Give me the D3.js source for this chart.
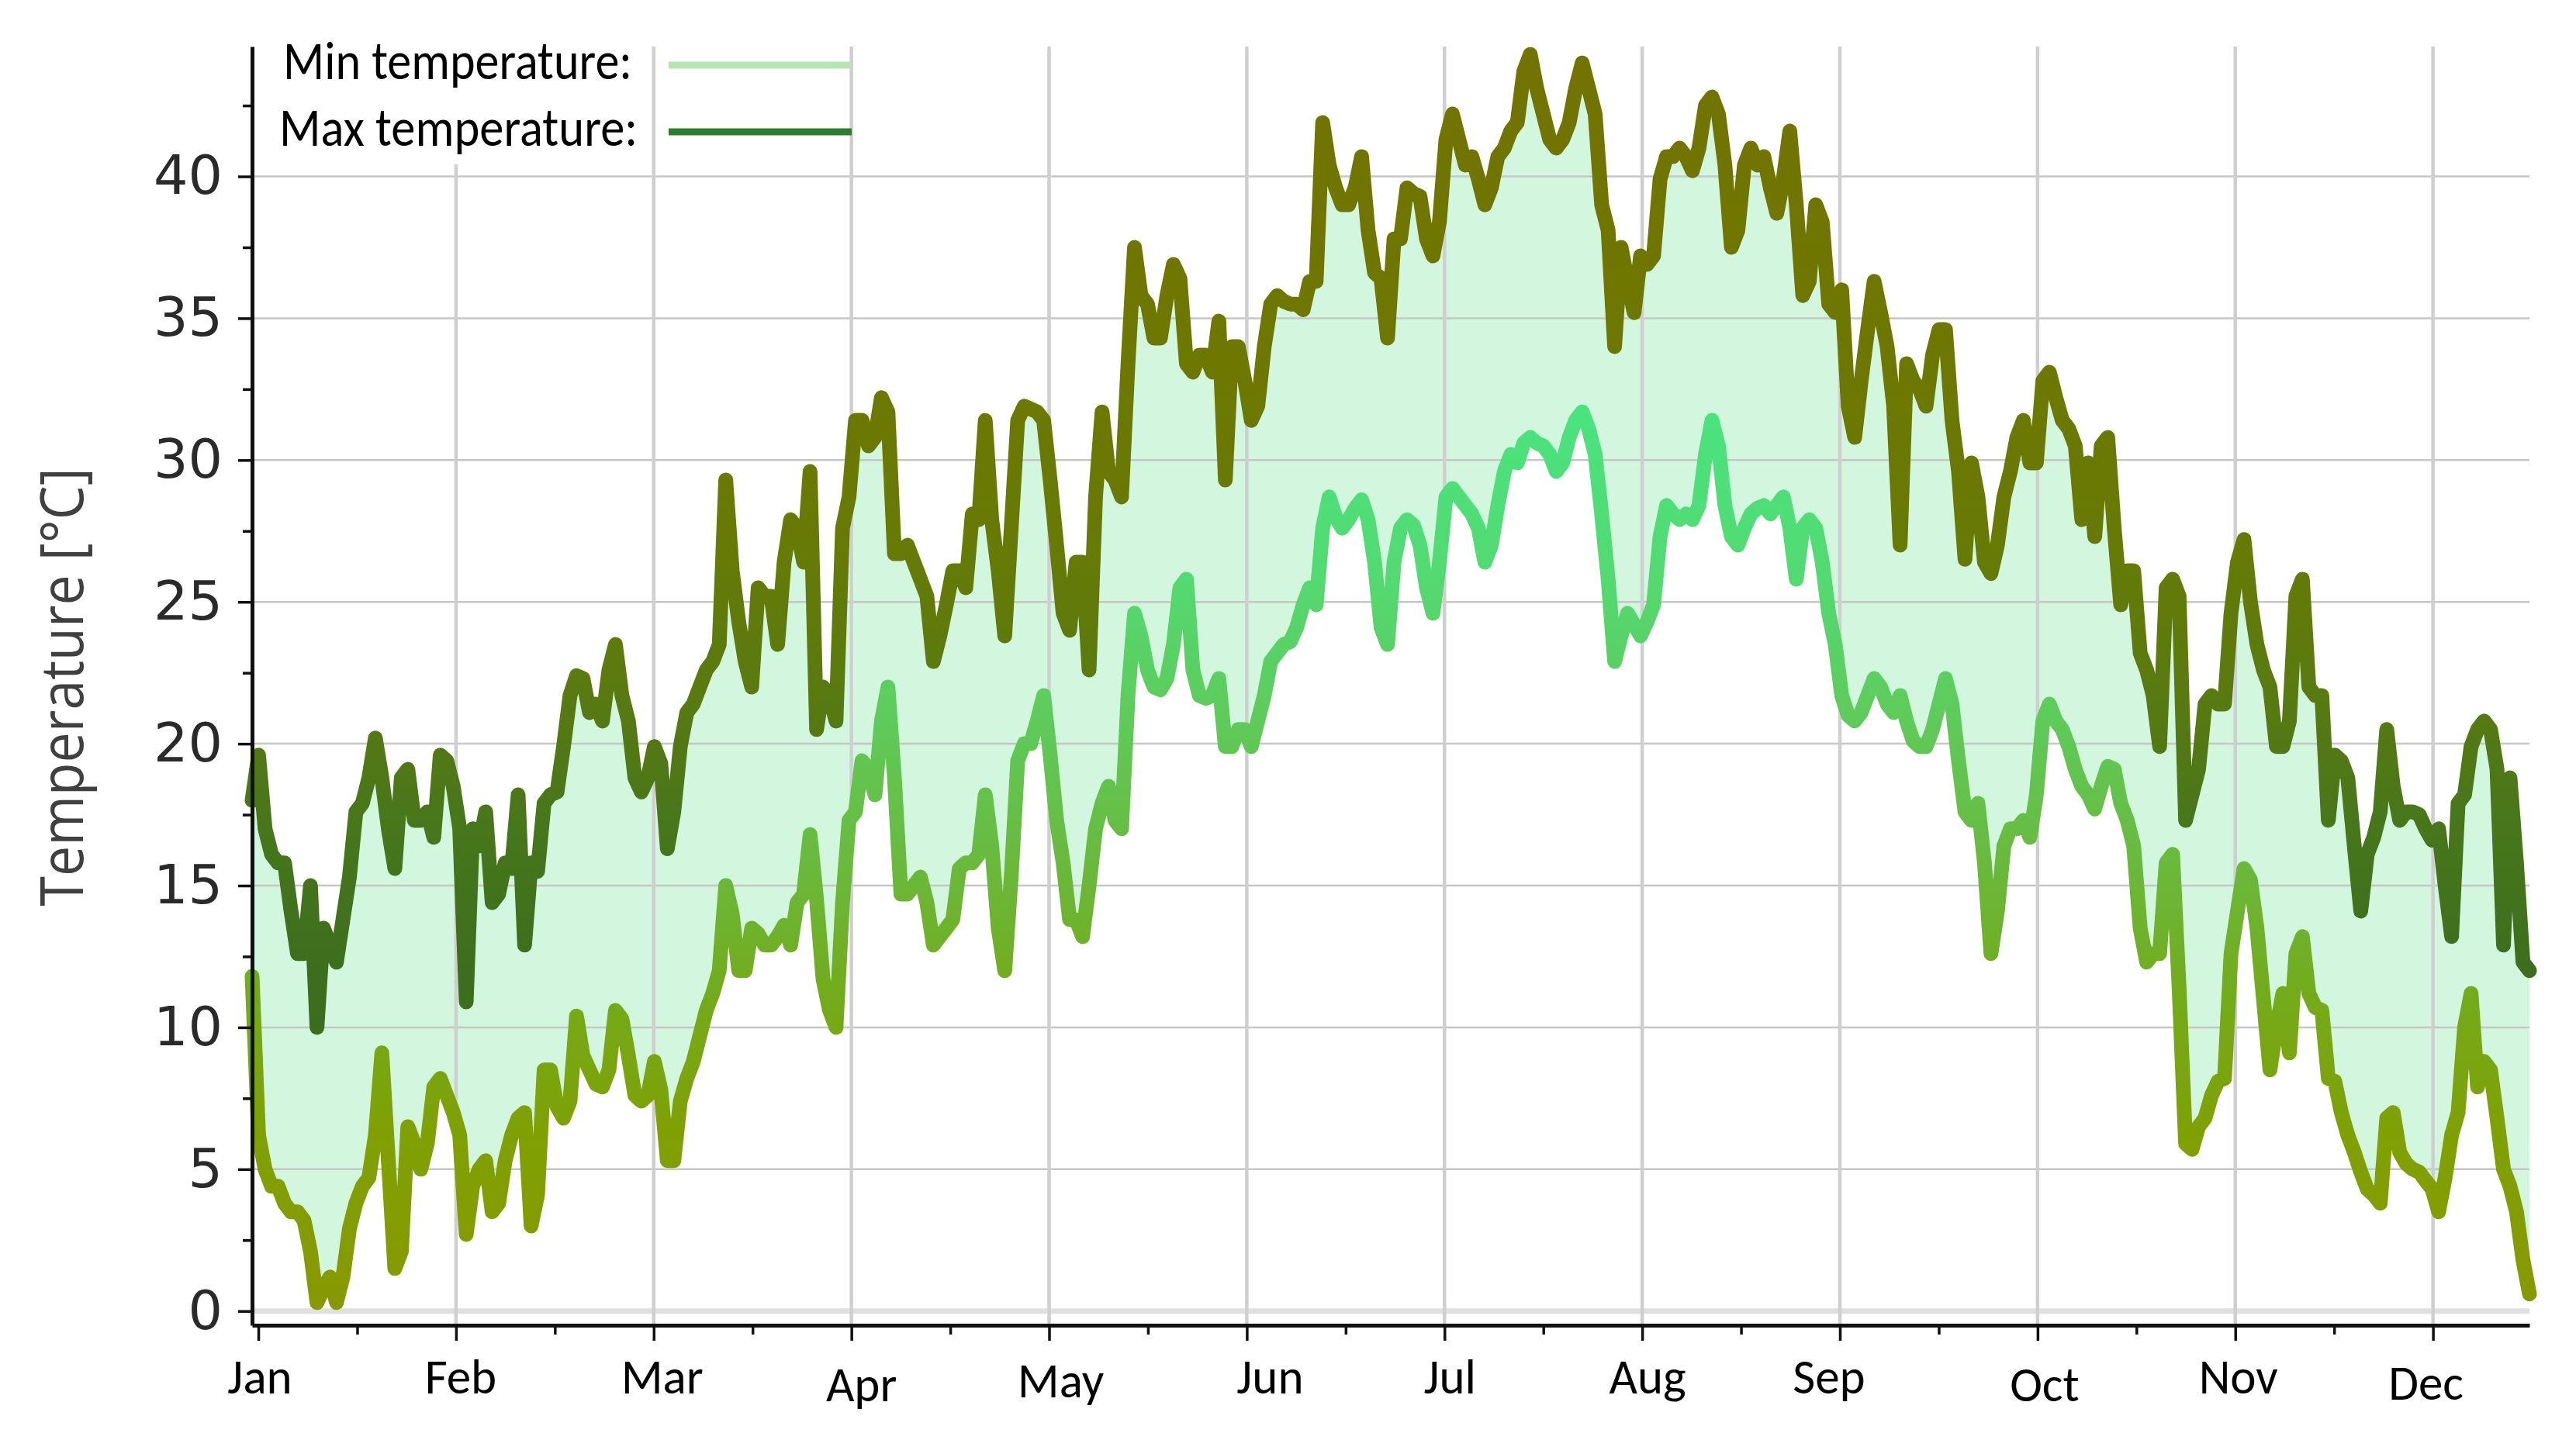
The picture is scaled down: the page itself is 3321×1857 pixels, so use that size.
<!DOCTYPE html>
<html>
<head>
<meta charset="utf-8">
<script src="https://cdn.jsdelivr.net/npm/d3@7"></script>
<style>
html,body{margin:0;padding:0;background:#ffffff;}
svg{display:block;}
</style>
</head>
<body>
<svg id="chart" width="3321" height="1857"></svg>
<script>
// ---------------- DATA ----------------
const months = ["Jan","Feb","Mar","Apr","May","Jun","Jul","Aug","Sep","Oct","Nov","Dec"];
const yTickValues = [0,5,10,15,20,25,30,35,40];
const legendLabels = ["Min temperature:", "Max temperature:"];
const yTitle = "Temperature [\u00B0C]";

// daily maximum temperature (°C)
const maxTemp = [
18.0,19.6,17,16.1,15.8,15.8,14.1,12.6,12.6,15,10,13.5,12.9,12.3,13.8,15.3,17.6,17.9,18.8,20.2,
18.8,17,15.6,18.8,19.1,17.3,17.3,17.6,16.7,19.6,19.4,18.5,17,10.9,17,16.4,17.6,14.4,14.7,15.8,
15.6,18.2,12.9,15.8,15.5,17.9,18.2,18.3,19.9,21.7,22.4,22.3,21.1,21.4,20.8,22.6,23.5,21.7,20.8,18.8,
18.3,18.8,19.9,19.3,16.3,17.6,19.9,21.1,21.4,22,22.6,22.9,23.5,29.3,26.1,24.3,22.9,22,25.5,25.2,
25.2,23.5,26.4,27.9,27.6,26.4,29.6,20.5,22,21.7,20.8,27.6,28.7,31.4,31.4,30.5,30.8,32.2,31.7,26.7,
26.7,27,26.4,25.8,25.2,22.9,23.8,24.9,26.1,26.1,25.5,28.1,27.9,31.4,27.9,26.1,23.8,27.6,31.4,31.9,
31.8,31.7,31.4,29.3,27,24.6,24,26.4,26.4,22.6,28.7,31.7,29.6,29.3,28.7,33.4,37.5,35.8,35.5,34.3,
34.3,35.8,36.9,36.4,33.4,33.1,33.7,33.7,33.1,34.9,29.3,34,34,32.8,31.4,31.9,34,35.5,35.8,35.6,
35.5,35.5,35.3,36.3,36.3,41.9,40.4,39.6,39,39,39.6,40.7,38.1,36.6,36.4,34.3,37.8,37.8,39.6,39.4,
39.3,37.8,37.2,38.4,41.3,42.2,41.3,40.4,40.7,39.9,39,39.6,40.7,41,41.6,41.9,43.7,44.3,43.1,42.2,
41.3,41,41.3,41.9,43.1,44,43.1,42.2,39,38.1,34,37.5,36.3,35.2,37.2,36.9,37.2,39.9,40.7,40.7,
41,40.7,40.2,41,42.5,42.8,42.2,40.4,37.5,38.1,40.4,41,40.4,40.7,39.6,38.7,39.9,41.6,39,35.8,
36.3,39,38.4,35.5,35.2,36,31.9,30.8,32.8,34.6,36.3,35.2,34,31.9,27,33.4,32.8,32.5,31.9,33.7,
34.6,34.6,31.4,29.6,26.5,29.9,28.7,26.4,26,27,28.7,29.6,30.8,31.4,29.9,29.9,32.8,33.1,32.2,31.4,
31.1,30.5,27.9,29.9,27.3,30.5,30.8,27.6,24.9,26.1,26.1,23.2,22.6,21.7,19.9,25.5,25.8,25.2,17.3,18.2,
19.1,21.4,21.7,21.4,21.4,24.6,26.4,27.2,25,23.5,22.6,22,19.9,19.9,20.8,25.2,25.8,22,21.7,21.7,
17.3,19.6,19.4,18.8,16.4,14.1,16.1,16.7,17.6,20.5,18.5,17.3,17.6,17.6,17.5,17,16.6,17,15,13.2,
17.9,18.2,19.9,20.5,20.8,20.5,19.1,12.9,18.8,15.8,12.3,12
];

// daily minimum temperature (°C)
const minTemp = [
11.8,6.2,5,4.4,4.4,3.8,3.5,3.5,3.2,2.1,0.3,0.8,1.2,0.3,1.2,2.9,3.8,4.4,4.7,6.2,
9.1,5.3,1.5,2.1,6.5,5.9,5,5.9,7.9,8.2,7.6,7,6.2,2.7,4.4,5,5.3,3.5,3.8,5.3,
6.2,6.8,7,3.0,4.1,8.5,8.5,7.2,6.8,7.4,10.4,9.0,8.5,8.0,7.9,8.5,10.6,10.3,9.0,7.6,
7.4,7.6,8.8,7.8,5.3,5.3,7.4,8.2,8.8,9.7,10.6,11.2,12.0,15.0,14.0,12.0,12.0,13.5,13.3,12.9,
12.9,13.2,13.6,12.9,14.4,14.7,16.8,14.5,11.7,10.6,10,14.4,17.3,17.6,19.4,19.1,18.2,20.8,22,18.8,
14.7,14.7,15,15.3,14.4,12.9,13.2,13.5,13.8,15.6,15.8,15.8,16.1,18.2,16.4,13.5,12,15.3,19.4,20,
20,20.8,21.7,19.6,17.3,15.8,13.8,13.8,13.2,15,17,17.9,18.5,17.3,17,21.7,24.6,23.8,22.6,22,
21.9,22.3,23.5,25.5,25.8,22.6,21.7,21.6,21.7,22.3,19.9,19.9,20.5,20.5,19.9,20.8,21.7,22.9,23.2,23.5,
23.6,24.1,24.9,25.5,24.9,27.6,28.7,28,27.6,27.9,28.3,28.6,27.9,26.4,24.1,23.5,26.4,27.6,27.9,27.7,
27,25.5,24.6,26.4,28.7,29,28.7,28.4,28.1,27.6,26.4,27,28.4,29.6,30.2,29.9,30.6,30.8,30.6,30.5,
30.2,29.6,29.9,30.8,31.4,31.7,31.1,30.2,28.1,25.8,22.9,23.8,24.6,24.2,23.8,24.3,24.9,27.3,28.4,28.1,
27.9,28.1,27.9,28.4,30.2,31.4,30.5,28.4,27.3,27,27.6,28.1,28.3,28.4,28.1,28.4,28.7,27.6,25.8,27.6,
27.9,27.6,26.4,24.6,23.5,21.7,21,20.8,21.1,21.7,22.3,22,21.4,21.1,21.7,20.8,20.1,19.9,19.9,20.5,
21.4,22.3,21.4,19.4,17.6,17.3,17.9,15.8,12.6,14.1,16.4,17,17,17.3,16.7,18.2,20.8,21.4,20.8,20.5,
19.9,19.1,18.5,18.2,17.7,18.5,19.2,19.1,17.9,17.3,16.4,13.5,12.3,12.6,12.6,15.8,16.1,11.4,5.9,5.7,
6.5,6.8,7.6,8.1,8.2,12.6,14.1,15.6,15.2,13.5,11,8.5,10,11.2,9.1,12.6,13.2,11.2,10.7,10.6,
8.2,8.1,7,6.2,5.6,4.9,4.3,4.1,3.8,6.8,7,5.6,5.2,5,4.9,4.6,4.3,3.5,4.7,6.2,
7,10,11.2,7.9,8.8,8.5,6.8,5,4.4,3.5,1.8,0.6
];

// ---------------- LAYOUT ----------------
const W = 3321, H = 1857;
const plotLeft = 325, plotRight = 3261, plotTop = 60, plotBottom = 1709;
const daysPerMonth = 30.47, firstMonthDay = 0.96;
const monthTickDays = months.map((m, i) => firstMonthDay + i * daysPerMonth);
const minorTickDays = months.map((m, i) => firstMonthDay + (i + 0.5) * daysPerMonth).filter(d => d < maxTemp.length - 1);
// hand-placed label nudges (px) as in the original
const labelDx = [2, 6, 11, 13, 15, 30, 7, 7, -14, 9, 4, -9];
const labelDy = [0, 0, 0, 10, 5, 0, 0, 0, 0, 10, 0, 8];

const svg = d3.select("#chart");
svg.append("rect").attr("width", W).attr("height", H).attr("fill", "#ffffff");

const days = d3.range(maxTemp.length);
const x = d3.scaleLinear().domain([0, maxTemp.length - 1]).range([plotLeft, plotRight]);
const y = d3.scaleLinear().domain([-0.5, 44.58]).range([plotBottom, plotTop]);

// gradients (colour varies with temperature)
const defs = svg.append("defs");
function makeGrad(id, stops) {
  const g = defs.append("linearGradient").attr("id", id)
    .attr("gradientUnits", "userSpaceOnUse")
    .attr("x1", 0).attr("x2", 0).attr("y1", y(0)).attr("y2", y(44));
  stops.forEach(([v, c]) => g.append("stop").attr("offset", v / 44).attr("stop-color", c));
}
makeGrad("gMax", [[0, "#3a6b1e"], [12, "#3d6e1d"], [17, "#47761b"], [22, "#5a7a10"], [27, "#677a05"], [35, "#6e7700"], [44, "#727300"]]);
makeGrad("gMin", [[0, "#879800"], [6, "#80a003"], [11, "#74aa1a"], [16, "#69ba3e"], [21, "#5ecb5b"], [26, "#53da72"], [32, "#49e47f"], [44, "#45e884"]]);

// fill between min and max
const area = d3.area()
  .x(d => x(d))
  .y0(d => y(minTemp[d]))
  .y1(d => y(maxTemp[d]));
svg.append("path").datum(days).attr("d", area).attr("fill", "#d3f6df");

// grid
const grid = svg.append("g");
grid.selectAll("line.h").data(yTickValues).join("line")
  .attr("x1", plotLeft).attr("x2", plotRight)
  .attr("y1", d => y(d)).attr("y2", d => y(d))
  .attr("stroke", d => d === 0 ? "#e0e0e0" : "#c6c6c6")
  .attr("stroke-width", d => d === 0 ? 7 : 2.5);
grid.selectAll("line.v").data(monthTickDays.slice(1)).join("line")
  .attr("x1", d => x(d)).attr("x2", d => x(d))
  .attr("y1", plotTop).attr("y2", plotBottom)
  .attr("stroke", "#cfcfcf").attr("stroke-width", 4.5);

// legend background box
svg.append("rect").attr("x", plotLeft + 4).attr("y", 38).attr("width", 508).attr("height", 174).attr("fill", "#ffffff");

// lines
const lineMax = d3.line().x(d => x(d)).y(d => y(maxTemp[d]));
const lineMin = d3.line().x(d => x(d)).y(d => y(minTemp[d]));
svg.append("path").datum(days).attr("d", lineMin)
  .attr("fill", "none").attr("stroke", "url(#gMin)").attr("stroke-width", 19)
  .attr("stroke-linejoin", "round").attr("stroke-linecap", "round");
svg.append("path").datum(days).attr("d", lineMax)
  .attr("fill", "none").attr("stroke", "url(#gMax)").attr("stroke-width", 19)
  .attr("stroke-linejoin", "round").attr("stroke-linecap", "round");

// y axis
const yAxis = svg.append("g").attr("transform", `translate(${plotLeft},0)`)
  .call(d3.axisLeft(y).tickValues(yTickValues).tickSize(18).tickSizeOuter(0).tickPadding(20));
yAxis.select(".domain").attr("stroke", "#111").attr("stroke-width", 5);
yAxis.selectAll(".tick line").attr("stroke", "#111").attr("stroke-width", 3.5);
yAxis.selectAll(".tick text").attr("font-family", "'DejaVu Sans', sans-serif")
  .attr("font-size", 70).attr("fill", "#2a2a2a");
const yMinor = svg.append("g").attr("transform", `translate(${plotLeft},0)`)
  .call(d3.axisLeft(y).tickValues(d3.range(2.5, 44.5, 5)).tickSize(12).tickSizeOuter(0).tickFormat(""));
yMinor.select(".domain").remove();
yMinor.selectAll(".tick line").attr("stroke", "#111").attr("stroke-width", 3.5);

// x axis
const xAxis = svg.append("g").attr("transform", `translate(0,${plotBottom})`)
  .call(d3.axisBottom(x).tickValues(monthTickDays).tickSize(20).tickSizeOuter(0).tickFormat(""));
xAxis.select(".domain").attr("stroke", "#111").attr("stroke-width", 5);
xAxis.selectAll(".tick line").attr("stroke", "#111").attr("stroke-width", 3.5);
const xMinor = svg.append("g").attr("transform", `translate(0,${plotBottom})`)
  .call(d3.axisBottom(x).tickValues(minorTickDays).tickSize(12).tickSizeOuter(0).tickFormat(""));
xMinor.select(".domain").remove();
xMinor.selectAll(".tick line").attr("stroke", "#111").attr("stroke-width", 3.5);

// month labels
svg.append("g").selectAll("text").data(months).join("text")
  .attr("x", (d, i) => x(monthTickDays[i]) + labelDx[i])
  .attr("y", (d, i) => 1797 + labelDy[i])
  .attr("text-anchor", "middle")
  .attr("font-family", "Carlito, Lato, 'Open Sans', sans-serif")
  .attr("font-size", 63).attr("fill", "#000")
  .text(d => d);

// y title
svg.append("text")
  .attr("transform", `translate(107,886) rotate(-90)`)
  .attr("text-anchor", "middle")
  .attr("font-family", "'Open Sans', sans-serif")
  .attr("font-size", 76).attr("fill", "#404040")
  .attr("textLength", 565).attr("lengthAdjust", "spacingAndGlyphs")
  .text(yTitle);

// legend
const legendColors = ["#b8e4b4", "#2e7d2e"];
const legendWidths = [450, 462];
const legendX = [365, 360];
const legendY = [102, 188];
const lg = svg.append("g");
lg.selectAll("text").data(legendLabels).join("text")
  .attr("x", (d, i) => legendX[i]).attr("y", (d, i) => legendY[i])
  .attr("font-family", "Carlito, Lato, 'Open Sans', sans-serif")
  .attr("font-size", 70).attr("fill", "#000")
  .attr("textLength", (d, i) => legendWidths[i]).attr("lengthAdjust", "spacingAndGlyphs")
  .text(d => d);
lg.selectAll("line").data(legendLabels).join("line")
  .attr("x1", 862).attr("x2", 1098)
  .attr("y1", (d, i) => legendY[i] - 18).attr("y2", (d, i) => legendY[i] - 18)
  .attr("stroke", (d, i) => legendColors[i]).attr("stroke-width", 9);
</script>
</body>
</html>
